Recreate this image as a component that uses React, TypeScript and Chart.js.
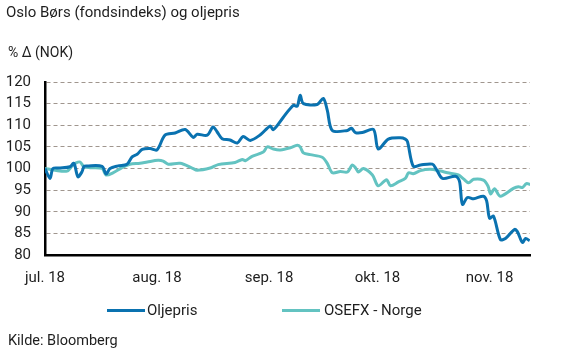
import React, { useEffect, useRef } from 'react';
import { Chart, registerables } from 'chart.js';

Chart.register(...registerables);

// Days since 1 July 2018
const oilDays = [0, 1.4, 2.2, 4.2, 6.9, 8.0, 9.1, 10.2, 10.8, 11.6, 15.8, 16.9, 18.0, 20.2, 22.7, 24.1, 25.5, 26.9, 29.1, 31.0, 33.2, 36.0, 38.8, 41.0, 42.1, 44.9, 46.5, 47.6, 49.0, 51.2, 53.2, 54.8, 56.8, 59.6, 62.3, 63.2, 65.9, 68.7, 69.8, 70.6, 71.5, 75.3, 77.0, 78.1, 79.5, 83.7, 84.8, 85.9, 87.8, 90.9, 92.2, 95.0, 98.3, 99.7, 100.3, 101.9, 103.9, 107.2, 108.3, 110.0, 113.6, 114.7, 115.5, 116.9, 118.6, 121.3, 122.2, 123.0, 124.1, 126.0, 127.4, 129.9, 130.7, 132.1, 133.0, 134.1];
const oilValues = [100, 97.7, 100, 100.1, 100.4, 101.2, 98.1, 99.2, 100.5, 100.6, 100.5, 98.7, 100, 100.6, 101.0, 102.7, 103.3, 104.4, 104.6, 104.3, 107.7, 108.2, 109.0, 107.2, 107.9, 107.7, 109.6, 108.5, 106.9, 106.6, 105.9, 107.4, 106.5, 107.8, 109.8, 109.0, 111.8, 114.6, 114.4, 116.9, 115.0, 114.8, 116.2, 113.5, 108.8, 108.8, 109.3, 108.3, 108.3, 109.0, 104.5, 106.8, 107.1, 106.8, 106.2, 100.5, 100.8, 101.0, 99.8, 97.7, 98.2, 97.0, 91.7, 93.3, 93.0, 93.6, 92.5, 88.5, 89.0, 83.6, 83.8, 85.9, 85.4, 82.9, 83.8, 83.3];

const osefxDays = [0, 2.8, 6.1, 7.5, 8.6, 9.7, 10.8, 12.5, 15.8, 16.9, 18.8, 21.3, 23.5, 26.3, 28.3, 31.3, 32.7, 34.1, 37.4, 40.7, 42.1, 45.7, 47.9, 52.6, 54.6, 55.4, 57.3, 60.4, 61.5, 63.2, 65.1, 67.9, 69.8, 70.6, 71.5, 73.4, 76.7, 78.1, 79.5, 81.7, 83.7, 85.0, 85.9, 86.7, 88.1, 90.6, 92.2, 94.5, 95.6, 97.8, 99.7, 100.6, 101.9, 103.9, 106.6, 109.4, 111.4, 114.4, 115.8, 117.2, 118.6, 121.3, 122.6, 123.3, 124.4, 126.0, 129.6, 131.0, 132.1, 133.2, 134.3];
const osefxValues = [100, 99.6, 99.4, 100.6, 101.3, 101.5, 100.4, 100.2, 100.0, 98.5, 99.0, 100.2, 101.0, 101.2, 101.5, 101.9, 101.7, 101.0, 101.2, 100.1, 99.6, 100.1, 100.9, 101.4, 102.1, 101.8, 102.8, 103.8, 105.0, 104.5, 104.3, 104.8, 105.4, 105.0, 103.6, 103.2, 102.6, 101.2, 99.0, 99.3, 99.2, 100.8, 100.2, 99.2, 100.0, 98.5, 96.0, 97.4, 96.0, 96.9, 97.7, 99.0, 98.8, 99.5, 99.8, 99.4, 99.0, 98.5, 97.6, 96.7, 97.5, 97.3, 95.9, 94.1, 95.3, 93.6, 95.4, 95.8, 95.6, 96.5, 96.3];

const monthTickDays = [0, 31, 62, 92, 123];
const monthLabels = ['jul. 18', 'aug. 18', 'sep. 18', 'okt. 18', 'nov. 18'];

const seriesNames = ['Oljepris', 'OSEFX - Norge'];
const seriesColors = ['#0a72b0', '#63c3c1'];

const FONT = 'Roboto, "Noto Sans", sans-serif';
const TEXT = '#1e1e1e';

export default function App() {
  const ref = useRef<HTMLCanvasElement>(null);

  useEffect(() => {
    document.body.style.margin = '0';
    const chart = new Chart(ref.current!, {
      type: 'line',
      data: {
        datasets: [
          {
            label: seriesNames[0],
            data: oilDays.map((d, i) => ({ x: d, y: oilValues[i] })),
            borderColor: seriesColors[0],
            borderWidth: 3,
            pointRadius: 0,
            tension: 0.3,
            fill: false,
          },
          {
            label: seriesNames[1],
            data: osefxDays.map((d, i) => ({ x: d, y: osefxValues[i] })),
            borderColor: seriesColors[1],
            borderWidth: 3,
            pointRadius: 0,
            tension: 0.3,
            fill: false,
          },
        ],
      },
      options: {
        responsive: false,
        animation: false,
        events: [],
        layout: { padding: { top: 82, right: 31, left: 0, bottom: 0 } },
        plugins: { legend: { display: false }, tooltip: { enabled: false } },
        scales: {
          x: {
            type: 'linear',
            min: 0,
            max: 134.2,
            afterBuildTicks: (s: any) => {
              s.ticks = monthTickDays.map((v) => ({ value: v }));
            },
            afterFit: (s: any) => {
              s.height = 100;
            },
            ticks: {
              autoSkip: false,
              maxRotation: 0,
              padding: 14,
              color: TEXT,
              font: { family: FONT, size: 15 },
              callback: (v: any) => monthLabels[monthTickDays.indexOf(v)] ?? '',
            },
            grid: { display: false, drawTicks: false },
            border: { color: '#000', width: 2.5 },
          },
          y: {
            min: 80,
            max: 120,
            afterFit: (s: any) => {
              s.width = 45;
            },
            ticks: {
              stepSize: 5,
              padding: 14,
              color: TEXT,
              font: { family: FONT, size: 15 },
            },
            grid: { color: '#a0968e', lineWidth: 1, drawTicks: false },
            border: { color: '#000', width: 2.5, dash: [4, 3] },
          },
        },
      },
    });
    return () => chart.destroy();
  }, []);

  const textBase: React.CSSProperties = {
    position: 'absolute',
    fontFamily: FONT,
    color: TEXT,
    whiteSpace: 'nowrap',
    lineHeight: 1,
  };

  return (
    <div style={{ position: 'relative', width: 561, height: 355, background: '#fff', overflow: 'hidden' }}>
      <canvas ref={ref} width={561} height={355} style={{ position: 'absolute', left: 0, top: 0 }} />
      <div style={{ ...textBase, left: 6, top: 5, fontSize: 15 }}>Oslo Børs (fondsindeks) og oljepris</div>
      <div style={{ ...textBase, left: 8, top: 45, fontSize: 14 }}>% Δ (NOK)</div>
      <div style={{ ...textBase, left: 107, top: 303, fontSize: 15, display: 'flex', alignItems: 'center' }}>
        <span style={{ display: 'inline-block', width: 38, height: 3, background: seriesColors[0], marginRight: 2 }} />
        <span>{seriesNames[0]}</span>
      </div>
      <div style={{ ...textBase, left: 282, top: 303, fontSize: 15, display: 'flex', alignItems: 'center' }}>
        <span style={{ display: 'inline-block', width: 38, height: 3, background: seriesColors[1], marginRight: 4 }} />
        <span>{seriesNames[1]}</span>
      </div>
      <div style={{ ...textBase, left: 8, top: 334, fontSize: 14.5 }}>Kilde: Bloomberg</div>
    </div>
  );
}
